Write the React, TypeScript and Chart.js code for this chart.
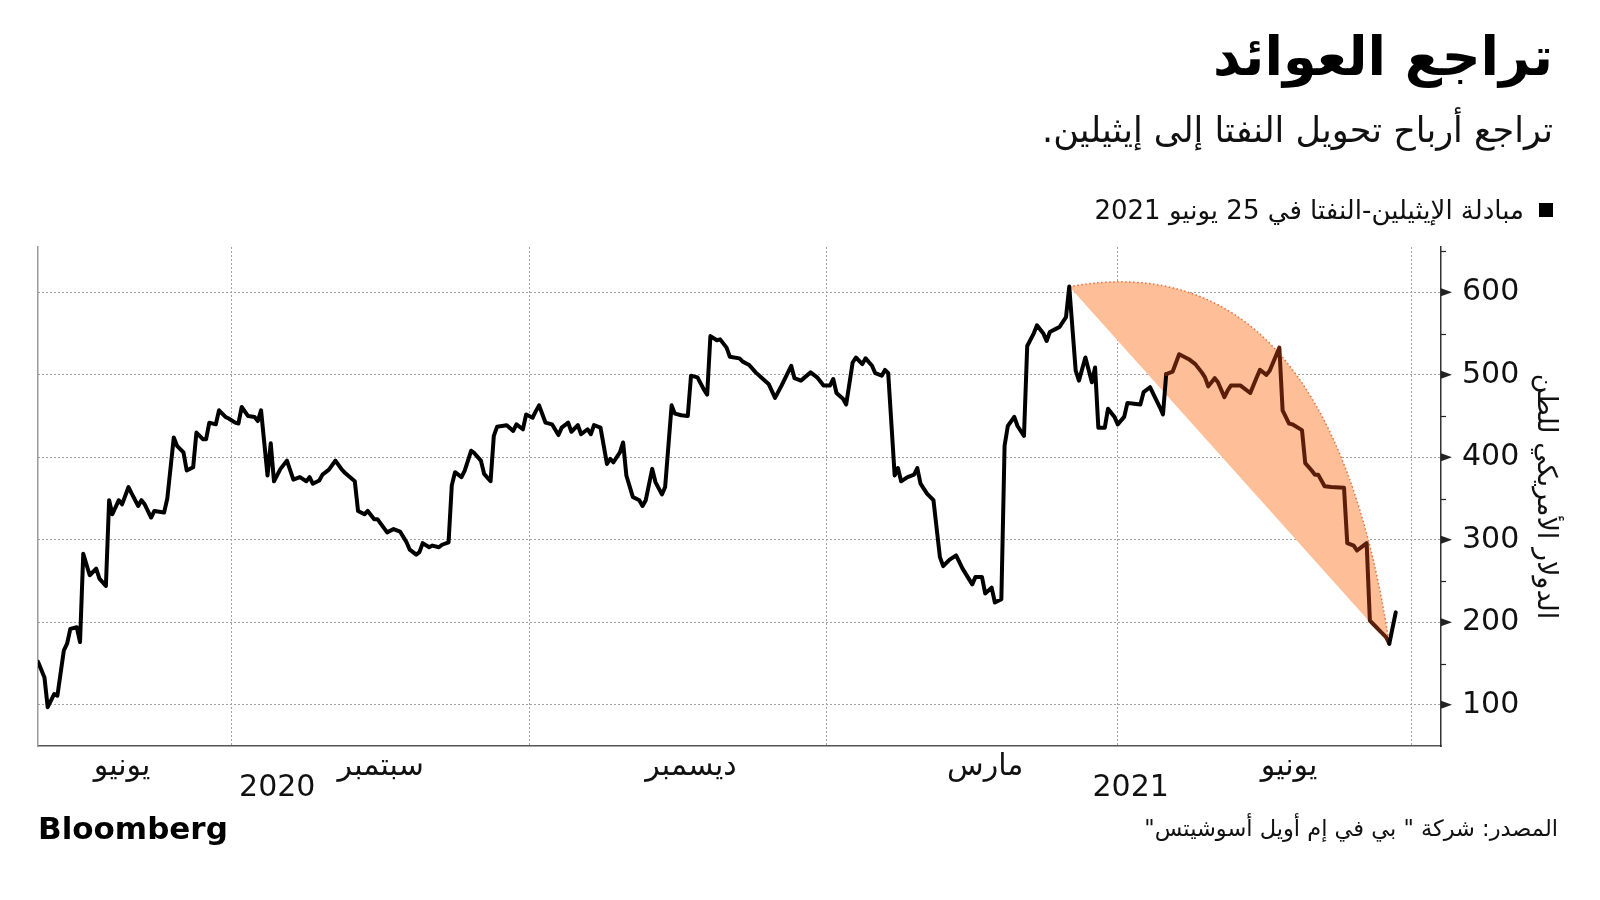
import React, { useEffect, useRef } from 'react';
import { Chart, registerables } from 'chart.js';

Chart.register(...registerables);

// ---------- DATA ----------
const START_DATE = '2020-05-02'; // day 0 of the series
// calendar days since START_DATE
const dayOffsets = [
  0, 2, 3, 5, 6, 8, 9, 10, 12, 13, 14, 16, 18, 19, 21, 22, 23, 25, 26, 28,
  29, 31, 32, 33, 35, 36, 39, 40, 42, 43, 45, 46, 48, 49, 51, 52, 53, 55, 56, 58,
  59, 61, 62, 63, 65, 67, 68, 69, 71, 72, 73, 75, 77, 79, 81, 83, 84, 85, 87, 88,
  90, 92, 94, 95, 98, 99, 101, 102, 104, 105, 108, 110, 112, 114, 115, 117, 118, 119, 121, 122,
  124, 125, 127, 128, 129, 131, 132, 134, 135, 137, 138, 140, 141, 142, 145, 147, 148, 150, 151, 153,
  154, 155, 157, 159, 161, 162, 164, 165, 167, 168, 170, 171, 172, 174, 176, 177, 178, 180, 181, 182,
  184, 186, 187, 188, 190, 191, 193, 194, 196, 197, 199, 201, 202, 204, 206, 207, 208, 210, 211, 213,
  214, 217, 218, 220, 222, 224, 226, 228, 230, 233, 234, 236, 239, 241, 243, 245, 246, 247, 249, 250,
  252, 253, 255, 256, 258, 259, 261, 262, 263, 265, 266, 267, 269, 271, 272, 273, 275, 277, 279, 280,
  282, 284, 286, 289, 290, 292, 293, 295, 296, 298, 299, 300, 302, 303, 305, 306, 308, 309, 311, 312,
  313, 315, 316, 318, 319, 321, 322, 324, 326, 327, 328, 330, 331, 333, 334, 336, 337, 339, 341, 342,
  344, 345, 347, 348, 349, 351, 353, 356, 358, 360, 361, 362, 364, 365, 367, 368, 369, 372, 375, 377,
  378, 380, 381, 384, 385, 387, 388, 391, 392, 394, 395, 396, 398, 400, 404, 405, 407, 408, 410, 411,
  412, 414, 415, 417, 418, 420,
];
// ethylene-naphtha spread, USD per ton
const spreadValues = [
  152, 133, 97, 113, 111, 166, 174, 192, 194, 176, 283, 257, 265, 253, 244, 348, 331, 348, 343, 364,
  356, 341, 348, 343, 327, 335, 333, 350, 424, 414, 406, 384, 388, 430, 422, 422, 442, 440, 457, 449,
  447, 442, 441, 461, 450, 449, 444, 457, 378, 417, 371, 386, 396, 373, 376, 371, 376, 368, 372, 379,
  385, 396, 385, 381, 371, 335, 331, 335, 325, 325, 309, 313, 310, 297, 288, 282, 285, 296, 291, 293,
  291, 294, 297, 366, 382, 376, 384, 408, 405, 396, 380, 371, 426, 437, 439, 432, 440, 434, 452, 448,
  456, 463, 442, 440, 427, 436, 442, 431, 439, 428, 434, 428, 439, 436, 392, 398, 394, 406, 418, 378,
  352, 348, 341, 348, 386, 370, 355, 364, 463, 453, 451, 450, 499, 497, 482, 476, 547, 542, 543, 533,
  522, 520, 516, 512, 503, 496, 489, 472, 487, 511, 496, 493, 503, 497, 487, 487, 495, 478, 471, 464,
  515, 521, 513, 520, 511, 502, 499, 506, 502, 378, 387, 371, 376, 379, 387, 368, 356, 348, 279, 268,
  276, 281, 265, 246, 255, 255, 235, 242, 224, 228, 414, 438, 449, 438, 426, 535, 550, 560, 550, 541,
  552, 556, 558, 570, 607, 505, 493, 521, 491, 509, 436, 436, 459, 449, 440, 449, 466, 465, 464, 479,
  485, 477, 461, 452, 501, 504, 525, 519, 513, 503, 497, 486, 496, 491, 473, 481, 487, 487, 478, 497,
  506, 500, 505, 533, 457, 441, 440, 433, 393, 384, 379, 379, 365, 364, 363, 296, 293, 287, 293, 296,
  202, 194, 190, 182, 174, 212,
];

const X_AXIS_END_DAY = 434;
const Y_MIN = 50;
const Y_MAX = 655;
const quarterStarts = ['2020-07-01', '2020-10-01', '2021-01-01', '2021-04-01', '2021-07-01'];
const monthLabels = ['يونيو', 'سبتمبر', 'ديسمبر', 'مارس', 'يونيو'];
const monthLabelDays = [26, 106, 202, 293, 387];
const yearLabels = ['2020', '2021'];
const yearLabelDays = [74, 338];
const yTicks = [100, 200, 300, 400, 500, 600];
const yMinorTicks = [150, 250, 350, 450, 550, 650];

// highlighted decline: from the March peak to the late-June trough
const highlightFromDay = 319;
const highlightToDay = 418;
const highlightCurveDay = 399;
const highlightCurveValue = 663;

// ---------- STYLE ----------
const FONT = '"DejaVu Sans", "Noto Sans", sans-serif';
const GRID = '#a0a0a0';
const FILL = '#fdbe98';
const ARC = '#e8703a';
const BROWN = '#5a1e0a';

const dayOf = (d: string) => (Date.parse(d) - Date.parse(START_DATE)) / 86400000;
const valueAtDay = (day: number) => spreadValues[dayOffsets.indexOf(day)];

function highlightPixels(chart: any) {
  const xs = chart.scales.x;
  const ys = chart.scales.y;
  return {
    a: { x: xs.getPixelForValue(highlightFromDay), y: ys.getPixelForValue(valueAtDay(highlightFromDay)) },
    b: { x: xs.getPixelForValue(highlightToDay), y: ys.getPixelForValue(valueAtDay(highlightToDay)) },
    c: { x: xs.getPixelForValue(highlightCurveDay), y: ys.getPixelForValue(highlightCurveValue) },
  };
}

const highlightPlugin = {
  id: 'highlightArea',
  beforeDatasetsDraw(chart: any) {
    const { ctx } = chart;
    const { a, b, c } = highlightPixels(chart);
    ctx.save();
    ctx.beginPath();
    ctx.moveTo(a.x, a.y);
    ctx.quadraticCurveTo(c.x, c.y, b.x, b.y);
    ctx.lineTo(a.x, a.y);
    ctx.closePath();
    ctx.fillStyle = FILL;
    ctx.fill();
    ctx.beginPath();
    ctx.moveTo(a.x, a.y);
    ctx.quadraticCurveTo(c.x, c.y, b.x, b.y);
    ctx.setLineDash([1.5, 2.5]);
    ctx.lineWidth = 1.5;
    ctx.strokeStyle = ARC;
    ctx.stroke();
    ctx.restore();
  },
};

const axisDecorPlugin = {
  id: 'axisDecor',
  afterDraw(chart: any) {
    const { ctx } = chart;
    const xs = chart.scales.x;
    const ys = chart.scales.y;
    const ax = ys.left;
    ctx.save();
    ctx.fillStyle = '#222';
    ctx.strokeStyle = '#222';
    yTicks.forEach((v) => {
      const py = ys.getPixelForValue(v);
      ctx.beginPath();
      ctx.moveTo(ax, py - 4);
      ctx.lineTo(ax + 11, py);
      ctx.lineTo(ax, py + 4);
      ctx.closePath();
      ctx.fill();
    });
    ctx.lineWidth = 1.2;
    yMinorTicks.forEach((v) => {
      const py = Math.round(ys.getPixelForValue(v)) + 0.5;
      ctx.beginPath();
      ctx.moveTo(ax, py);
      ctx.lineTo(ax + 5, py);
      ctx.stroke();
    });
    ctx.fillStyle = '#111';
    ctx.textAlign = 'center';
    ctx.textBaseline = 'middle';
    ctx.font = `30px ${FONT}`;
    monthLabels.forEach((t, i) => {
      ctx.fillText(t, xs.getPixelForValue(monthLabelDays[i]), 767);
    });
    yearLabels.forEach((t, i) => {
      ctx.fillText(t, xs.getPixelForValue(yearLabelDays[i]), 788);
    });
    ctx.restore();
  },
};

export default function App() {
  const canvasRef = useRef<HTMLCanvasElement | null>(null);

  useEffect(() => {
    document.body.style.margin = '0';
    const canvas = canvasRef.current;
    if (!canvas) return;
    const gridDays = quarterStarts.map(dayOf);
    const chart = new Chart(canvas, {
      type: 'line',
      data: {
        datasets: [
          {
            label: 'مبادلة الإيثيلين-النفتا في 25 يونيو 2021',
            data: dayOffsets.map((d, i) => ({ x: d, y: spreadValues[i] })),
            borderColor: '#000',
            borderWidth: 4,
            borderJoinStyle: 'round',
            borderCapStyle: 'round',
            pointRadius: 0,
            tension: 0,
            segment: {
              borderColor: (sc: any) => {
                const { a, b } = highlightPixels(sc.chart);
                const mx = (sc.p0.x + sc.p1.x) / 2;
                const my = (sc.p0.y + sc.p1.y) / 2;
                if (mx <= a.x || mx >= b.x) return undefined;
                const ly = a.y + ((b.y - a.y) * (mx - a.x)) / (b.x - a.x);
                return my < ly ? BROWN : undefined;
              },
            },
          },
        ],
      },
      options: {
        animation: false,
        responsive: false,
        maintainAspectRatio: false,
        layout: { padding: { left: 38, top: 247, bottom: 154, right: 0 } },
        plugins: {
          legend: { display: false },
          tooltip: { enabled: false },
          title: { display: false },
        },
        scales: {
          x: {
            type: 'linear',
            position: 'bottom',
            min: 0,
            max: X_AXIS_END_DAY,
            afterBuildTicks: (s: any) => {
              s.ticks = gridDays.map((v) => ({ value: v }));
            },
            afterFit: (s: any) => {
              s.height = 0;
            },
            ticks: { display: false },
            grid: { color: GRID, lineWidth: 1, drawTicks: false },
            border: { display: true, color: '#555', width: 1.5, dash: [2, 2] },
          },
          y: {
            type: 'linear',
            position: 'right',
            min: Y_MIN,
            max: Y_MAX,
            afterBuildTicks: (s: any) => {
              s.ticks = yTicks.map((v) => ({ value: v }));
            },
            afterFit: (s: any) => {
              s.width = 159;
            },
            ticks: {
              padding: 21,
              color: '#111',
              font: { family: FONT, size: 30 },
              callback: (v: any) => String(v),
            },
            grid: { color: GRID, lineWidth: 1, drawTicks: false },
            border: { display: true, color: '#333', width: 1.5, dash: [2, 2] },
            title: {
              display: true,
              text: 'الدولار الأمريكي للطن',
              color: '#111',
              font: { family: FONT, size: 27 },
              padding: { top: 39, bottom: 0 },
            },
          },
          yLeft: {
            type: 'linear',
            position: 'left',
            min: Y_MIN,
            max: Y_MAX,
            afterFit: (s: any) => {
              s.width = 0;
            },
            ticks: { display: false },
            grid: { drawOnChartArea: false, drawTicks: false },
            border: { display: true, color: '#999', width: 1.5 },
          },
        },
      },
      plugins: [highlightPlugin, axisDecorPlugin],
    } as any);
    return () => chart.destroy();
  }, []);

  const abs = (s: React.CSSProperties): React.CSSProperties => ({
    position: 'absolute',
    whiteSpace: 'nowrap',
    lineHeight: 1,
    color: '#111',
    fontFamily: FONT,
    ...s,
  });

  return (
    <div style={{ position: 'relative', width: 1600, height: 900, background: '#fff', overflow: 'hidden' }}>
      <canvas ref={canvasRef} width={1600} height={900} style={{ position: 'absolute', left: 0, top: 0 }} />
      <div dir="rtl" style={abs({ right: 47, top: 30, fontSize: 54, fontWeight: 'bold', color: '#000' })}>
        تراجع العوائد
      </div>
      <div dir="rtl" style={abs({ right: 47, top: 113, fontSize: 35 })}>
        تراجع أرباح تحويل النفتا إلى إيثيلين.
      </div>
      <div dir="rtl" style={abs({ right: 47, top: 197, fontSize: 26, display: 'flex', alignItems: 'center' })}>
        <span style={{ display: 'inline-block', width: 14, height: 14, background: '#000', marginLeft: 15 }} />
        <span>مبادلة الإيثيلين-النفتا في 25 يونيو 2021</span>
      </div>
      <div dir="rtl" style={abs({ right: 42, top: 817, fontSize: 22.5 })}>
        المصدر: شركة " بي في إم أويل أسوشيتس"
      </div>
      <div style={abs({ left: 38, top: 813, fontSize: 31, fontWeight: 'bold', color: '#000' })}>Bloomberg</div>
    </div>
  );
}
